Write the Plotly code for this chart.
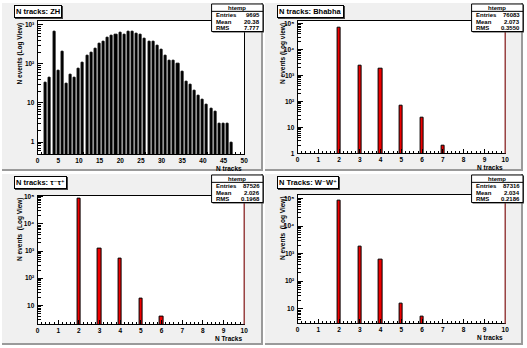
import plotly.graph_objects as go

# ---------------- data ----------------
zh_n = list(range(2, 48))
zh_counts = [33, 43, 643, 66, 207, 32, 52, 43, 73, 108, 162, 196, 246, 322, 376,
             473, 516, 552, 605, 562, 660, 660, 585, 540, 447, 370, 370, 292, 228,
             158, 123, 119, 98, 64, 35, 30, 21, 15, 12, 9, 7, 6, 3, 3, 3, 1]

bhabha_n = [2, 3, 4, 5, 6, 7]
bhabha_counts = [71841, 2400, 1750, 66, 24, 2]

tautau_n = [2, 3, 4, 5, 6]
tautau_counts = [85815, 1180, 510, 17, 4]

ww_n = [2, 3, 4, 5, 6]
ww_counts = [84875, 1830, 590, 16, 5]

titles = ["N tracks: ZH", "N tracks: Bhabha", "N tracks: τ⁻τ⁺", "N Tracks: W⁻W⁺"]
x_titles = ["N tracks", "N tracks", "N Tracks", "N tracks"]
y_titles = ["N events (Log View)", "N events (Log view)", "N events  (Log View)",
            "N events  (Log View)"]
stat_entries = ["9695", "76083", "87526", "87316"]
stat_means = ["20.38", "2.073", "2.026", "2.034"]
stat_rms = ["7.777", "0.3550", "0.1968", "0.2186"]

log_tick_vals = [1, 10, 100, 1000, 10000, 100000]
log_tick_text = ["1", "10", "10²", "10³", "10⁴", "10⁵"]

# ---------------- layout helpers ----------------
W, H = 527, 348
FONT = "Liberation Sans, DejaVu Sans"


def px(x):
    return x / W


def py(y):
    return 1 - y / H


panels = [
    dict(n=zh_n, c=zh_counts, color="black", width=0.5, xr=[0, 50], yr=[-0.31, 3.1],
         xd=5, xm=1, frame=(36, 245, 18, 154), pad=(0, 264, 0, 171)),
    dict(n=bhabha_n, c=bhabha_counts, color="#ee0000", width=0.16, xr=[0, 10], yr=[0, 5.11],
         xd=1, xm=0.2, frame=(299, 509, 18, 153), pad=(266, 527, 0, 171)),
    dict(n=tautau_n, c=tautau_counts, color="#ee0000", width=0.16, xr=[0, 10], yr=[0.301, 5.04],
         xd=1, xm=0.2, frame=(36, 245, 196, 327), pad=(0, 264, 174, 348)),
    dict(n=ww_n, c=ww_counts, color="#ee0000", width=0.16, xr=[0, 10], yr=[0.47, 5.14],
         xd=1, xm=0.2, frame=(299, 509, 195, 326), pad=(266, 527, 174, 348)),
]

fig = go.Figure()
shapes = []
annotations = []

for i, p in enumerate(panels):
    k = "" if i == 0 else str(i + 1)
    xa, ya = "x" + k, "y" + k
    x0, x1, y0, y1 = p["frame"]
    fig.add_trace(go.Bar(
        x=p["n"], y=p["c"], width=p["width"], xaxis=xa, yaxis=ya,
        marker=dict(color=p["color"], line=dict(color="black", width=1)),
        showlegend=False, hoverinfo="x+y"))
    common = dict(showline=True, mirror=True, linecolor="black", linewidth=1,
                  ticks="inside", tickcolor="black", showgrid=False, zeroline=False,
                  tickfont=dict(family=FONT, size=6.5, color="black", weight="bold"))
    fig.layout["xaxis" + k] = dict(
        domain=[px(x0), px(x1)], range=p["xr"], dtick=p["xd"], tick0=0, ticklen=4,
        minor=dict(ticks="inside", dtick=p["xm"], ticklen=2, tickcolor="black"),
        anchor=ya, ticklabelstandoff=0, **common)
    fig.layout["yaxis" + k] = dict(
        domain=[py(y1), py(y0)], type="log", range=p["yr"],
        tickvals=log_tick_vals, ticktext=log_tick_text, ticklen=5,
        minor=dict(ticks="inside", dtick="D1", ticklen=3, tickcolor="black"),
        anchor=xa, ticklabelstandoff=1, **common)

    # pad background with bevel
    a0, a1, b0, b1 = p["pad"]
    shapes.append(dict(type="rect", xref="paper", yref="paper", layer="below",
                       x0=px(a0), x1=px(a1), y0=py(b1), y1=py(b0),
                       fillcolor="#f0f0f0", line=dict(width=0)))
    shapes.append(dict(type="line", xref="paper", yref="paper", layer="below",
                       x0=px(a0), x1=px(a1), y0=py(b1 - 1), y1=py(b1 - 1),
                       line=dict(color="#9a9a9a", width=2)))
    shapes.append(dict(type="line", xref="paper", yref="paper", layer="below",
                       x0=px(a1 - 1), x1=px(a1 - 1), y0=py(b1), y1=py(b0),
                       line=dict(color="#9a9a9a", width=2)))
    # white frame interior
    shapes.append(dict(type="rect", xref="paper", yref="paper", layer="below",
                       x0=px(x0), x1=px(x1), y0=py(y1), y1=py(y0),
                       fillcolor="white", line=dict(width=0)))
    if i > 0:
        shapes.append(dict(type="line", xref="paper", yref="paper",
                           x0=px(x1), x1=px(x1), y0=py(y1), y1=py(y0),
                           line=dict(color="#a04848", width=1.5)))

    # title box (auto-sized to its text) with a small drop shadow
    tx0 = a0 + 12
    ty0 = b0 + 2
    tfont = dict(family=FONT, size=7.5, color="black", weight="bold")
    annotations.append(dict(xref="paper", yref="paper", x=px(tx0 + 1), y=py(ty0 + 1),
                            xanchor="left", yanchor="top", showarrow=False,
                            text=titles[i], bgcolor="#444", bordercolor="#444",
                            borderwidth=1, borderpad=1,
                            font=dict(family=FONT, size=7.5, color="#444", weight="bold")))
    annotations.append(dict(xref="paper", yref="paper", x=px(tx0), y=py(ty0),
                            xanchor="left", yanchor="top", showarrow=False,
                            text=titles[i], bgcolor="white", bordercolor="black",
                            borderwidth=1, borderpad=1, font=tfont))

    # stats box
    sx1 = min(a0 + 264, 527)
    sx0 = sx1 - 52
    sy0 = b0 + 1
    sy1 = sy0 + 28
    shapes.append(dict(type="rect", xref="paper", yref="paper",
                       x0=px(sx0 + 1), x1=px(sx1 + 1), y0=py(sy1 + 1), y1=py(sy0 + 1),
                       fillcolor="#444", line=dict(width=0)))
    shapes.append(dict(type="rect", xref="paper", yref="paper",
                       x0=px(sx0), x1=px(sx1), y0=py(sy1), y1=py(sy0),
                       fillcolor="white", line=dict(color="black", width=1)))
    shapes.append(dict(type="line", xref="paper", yref="paper",
                       x0=px(sx0), x1=px(sx1), y0=py(sy0 + 7.5), y1=py(sy0 + 7.5),
                       line=dict(color="black", width=1)))
    sf = dict(family=FONT, size=6, color="black", weight="bold")
    annotations.append(dict(xref="paper", yref="paper", x=px((sx0 + sx1) / 2),
                            y=py(sy0 + 4), xanchor="center", yanchor="middle",
                            showarrow=False, text="htemp", font=sf))
    rows = [("Entries", stat_entries[i]), ("Mean", stat_means[i]), ("RMS", stat_rms[i])]
    for j, (lab, val) in enumerate(rows):
        yy = sy0 + 11.5 + j * 6.7
        annotations.append(dict(xref="paper", yref="paper", x=px(sx0 + 2), y=py(yy),
                                xanchor="left", yanchor="middle", showarrow=False,
                                text=lab, font=sf))
        annotations.append(dict(xref="paper", yref="paper", x=px(sx1 - 1.5), y=py(yy),
                                xanchor="right", yanchor="middle", showarrow=False,
                                text=val, font=sf))

    # axis titles
    af = dict(family=FONT, size=6.5, color="black", weight="bold")
    annotations.append(dict(xref="paper", yref="paper", x=px(x1), y=py(y1 + 9),
                            xanchor="right", yanchor="top", showarrow=False,
                            text=x_titles[i], font=af))
    annotations.append(dict(xref="paper", yref="paper", x=px(a0 + 18), y=py(y0),
                            xanchor="center", yanchor="top", showarrow=False,
                            textangle=-90, text=y_titles[i], font=af))

fig.update_layout(width=W, height=H, margin=dict(l=0, r=0, t=0, b=0),
                  paper_bgcolor="white", plot_bgcolor="rgba(0,0,0,0)",
                  bargap=0, shapes=shapes, annotations=annotations,
                  font=dict(family=FONT))
fig.write_html("out.html", config={"displayModeBar": False},
               post_script="document.body.style.margin='0';document.body.style.padding='0';")
